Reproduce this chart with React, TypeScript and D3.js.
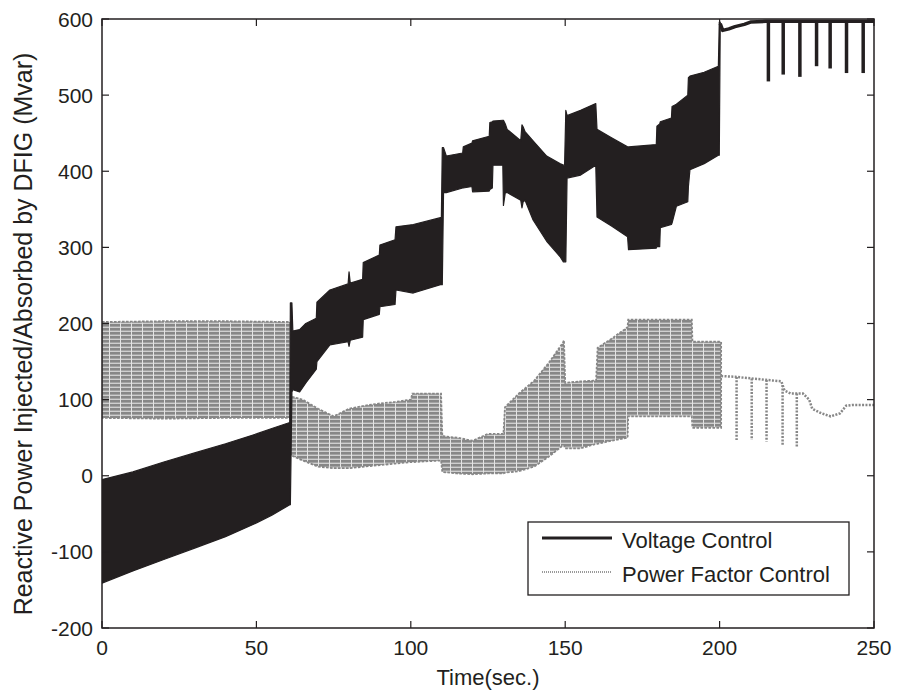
import React from "react";
import * as d3 from "d3";

// ---- Data ----
// Voltage Control: envelope of the oscillation band (time, upper, lower)
const vcT = [0, 10, 20, 30, 40, 50, 55, 60.8, 61.0, 61.5, 61.8, 64, 66, 69.4, 69.6, 73.8, 79.7, 80.0, 80.4, 84.4, 84.6, 89.8, 90.0, 94.9, 95.2, 100.8, 109.6, 109.9, 110.2, 110.6, 111.5, 116.8, 117.0, 119.8, 120.0, 125.4, 125.6, 126.4, 126.6, 129.8, 130.0, 130.6, 131.2, 135.6, 136.0, 136.4, 137.0, 139.6, 144, 148.3, 149.4, 149.8, 150.2, 150.6, 155, 159.9, 160.3, 165, 170.2, 170.5, 179.5, 179.7, 180.6, 180.8, 184.4, 184.6, 186, 189.7, 189.9, 190.4, 195, 199.6, 199.9, 200.2];
const vcHigh = [-5, 5, 18, 30, 42, 55, 62, 70, 227, 227, 190, 192, 200, 207, 228, 244, 252, 268, 253, 258, 280, 290, 303, 310, 327, 330, 339, 339, 431, 431, 420, 424, 432, 437, 440, 446, 464, 465, 466, 467, 467, 462, 455, 440, 461, 458, 452, 440, 420, 410, 408, 408, 480, 473, 480, 489, 455, 444, 432, 432, 435, 459, 462, 465, 470, 485, 488, 500, 523, 525, 530, 538, 596, 596];
const vcLow = [-141, -125, -110, -95, -80, -62, -52, -38, -38, 110, 113, 110, 122, 140, 150, 172, 176, 170, 178, 182, 205, 212, 222, 225, 244, 240, 251, 251, 251, 372, 372, 378, 378, 380, 373, 374, 376, 378, 408, 408, 355, 372, 372, 362, 352, 360, 362, 336, 308, 288, 281, 281, 281, 391, 395, 408, 340, 328, 314, 297, 299, 301, 301, 326, 330, 332, 354, 360, 380, 402, 410, 421, 421, 590];
// Voltage Control after t = 200: near-saturated line with short drops
const vcTailT = [200.2, 201, 203, 205, 208, 210, 215, 220, 230, 240, 250];
const vcTailV = [594, 585, 587, 590, 593, 596, 597, 597, 597, 597, 597];
const vcDropT = [215.8, 220.6, 226.0, 231.4, 235.8, 241.1, 246.5];
const vcDropV = [518, 527, 524, 538, 535, 529, 529];

// Power Factor Control: envelope of the oscillation band
const pfT = [0, 20, 40, 61, 61.2, 65, 70, 75, 80, 85, 90, 95, 100, 100.5, 109.8, 110.2, 115, 120, 125, 130, 130.5, 135, 140, 145, 149.3, 149.6, 150, 155, 160, 160.5, 165, 170.2, 170.4, 180, 191, 191.2, 200.5];
const pfHigh = [202, 203, 203, 202, 104, 100, 88, 78, 88, 92, 95, 97, 100, 108, 108, 52, 50, 46, 55, 55, 90, 108, 125, 150, 175, 178, 122, 124, 125, 168, 180, 195, 205, 205, 205, 176, 176];
const pfLow = [76, 75, 76, 76, 27, 20, 12, 10, 10, 12, 14, 16, 18, 18, 20, 5, 3, 2, 3, 3, 4, 6, 12, 26, 40, 40, 36, 36, 42, 42, 46, 50, 78, 78, 78, 63, 63];
// Power Factor Control after t = 200
const pfTailT = [200.5, 205, 210, 215, 220, 221, 223, 227, 229, 230, 233, 236, 239, 241, 243, 250];
const pfTailV = [131, 130, 128, 126, 124, 112, 108, 108, 100, 88, 82, 78, 82, 92, 93, 93];
const pfDropT = [205.5, 210.4, 215.2, 220.4, 225.0];
const pfDropV = [47, 47, 45, 40, 37];

const xTicks = [0, 50, 100, 150, 200, 250];
const yTicks = [-200, -100, 0, 100, 200, 300, 400, 500, 600];
const seriesNames = ["Voltage Control", "Power Factor Control"];
const xLabel = "Time(sec.)";
const yLabel = "Reactive Power Injected/Absorbed by DFIG (Mvar)";

// ---- Layout ----
const W = 897;
const H = 693;
const left = 102;
const right = 874;
const top = 19;
const bottom = 628;
const FONT = "'Liberation Sans', Arial, Helvetica, sans-serif";
const INK = "#231f20";
const GRAY = "#878787";

export default function App() {
  const x = d3.scaleLinear().domain([0, 250]).range([left, right]);
  const y = d3.scaleLinear().domain([-200, 600]).range([bottom, top]);

  const vcArea = d3
    .area<number>()
    .x((_, i) => x(vcT[i]))
    .y0((_, i) => y(vcLow[i]))
    .y1((_, i) => y(vcHigh[i]));
  const pfArea = d3
    .area<number>()
    .x((_, i) => x(pfT[i]))
    .y0((_, i) => y(pfLow[i]))
    .y1((_, i) => y(pfHigh[i]));
  const vcTail = d3
    .line<number>()
    .x((_, i) => x(vcTailT[i]))
    .y((d) => y(d));
  const pfTail = d3
    .line<number>()
    .x((_, i) => x(pfTailT[i]))
    .y((d) => y(d));

  const tailAt = (ts: number[], vs: number[], t: number) => {
    const i = d3.bisectLeft(ts, t);
    if (i <= 0) return vs[0];
    if (i >= ts.length) return vs[vs.length - 1];
    const f = (t - ts[i - 1]) / (ts[i] - ts[i - 1]);
    return vs[i - 1] + f * (vs[i] - vs[i - 1]);
  };

  const tickLen = 7;

  return (
    <svg
      width={W}
      height={H}
      style={{ position: "absolute", left: 0, top: 0, background: "#fff" }}
      fontFamily={FONT}
    >
      <defs>
        <pattern id="pfStripes" width={11} height={4} patternUnits="userSpaceOnUse">
          <rect width={11} height={4} fill="#cfcfcf" />
          <rect width={11} height={2.6} fill={GRAY} />
          <rect x={10} width={1} height={4} fill="#e4e4e4" />
        </pattern>
        <clipPath id="plotClip">
          <rect x={left} y={top - 2} width={right - left} height={bottom - top + 2} />
        </clipPath>
      </defs>
      <rect x={0} y={0} width={W} height={H} fill="#fff" />

      <g clipPath="url(#plotClip)">
        {/* Power factor control band */}
        <path d={pfArea(pfT) || ""} fill="url(#pfStripes)" stroke={GRAY} strokeWidth={1.8} strokeDasharray="2.6,1.4" />
        <path d={pfTail(pfTailV) || ""} fill="none" stroke={GRAY} strokeWidth={2.5} strokeDasharray="2,1.4" />
        {pfDropT.map((t, i) => (
          <line
            key={"pfd" + i}
            x1={x(t)}
            x2={x(t)}
            y1={y(tailAt(pfTailT, pfTailV, t))}
            y2={y(pfDropV[i])}
            stroke={GRAY}
            strokeWidth={2.5}
            strokeDasharray="2,1.4"
          />
        ))}

        {/* Voltage control band */}
        <path d={vcArea(vcT) || ""} fill={INK} stroke={INK} strokeWidth={1.2} strokeLinejoin="round" />
        <path d={vcTail(vcTailV) || ""} fill="none" stroke={INK} strokeWidth={3.5} strokeLinejoin="round" />
        {vcDropT.map((t, i) => (
          <line
            key={"vcd" + i}
            x1={x(t)}
            x2={x(t)}
            y1={y(tailAt(vcTailT, vcTailV, t))}
            y2={y(vcDropV[i])}
            stroke={INK}
            strokeWidth={3.5}
          />
        ))}
      </g>

      {/* Axes frame */}
      <rect x={left} y={top} width={right - left} height={bottom - top} fill="none" stroke={INK} strokeWidth={1.5} />
      {xTicks.map((t) => (
        <g key={"xt" + t}>
          <line x1={x(t)} x2={x(t)} y1={bottom} y2={bottom - tickLen} stroke={INK} strokeWidth={1.2} />
          <line x1={x(t)} x2={x(t)} y1={top} y2={top + tickLen} stroke={INK} strokeWidth={1.2} />
          <text x={x(t)} y={655} textAnchor="middle" fontSize={21} fill={INK}>
            {t}
          </text>
        </g>
      ))}
      {yTicks.map((v) => (
        <g key={"yt" + v}>
          <line x1={left} x2={left + tickLen} y1={y(v)} y2={y(v)} stroke={INK} strokeWidth={1.2} />
          <line x1={right} x2={right - tickLen} y1={y(v)} y2={y(v)} stroke={INK} strokeWidth={1.2} />
          <text x={93} y={y(v) + 7.5} textAnchor="end" fontSize={21} fill={INK}>
            {v}
          </text>
        </g>
      ))}

      <text x={(left + right) / 2} y={685} textAnchor="middle" fontSize={22} fill={INK}>
        {xLabel}
      </text>
      <text
        transform={`translate(32, 334) rotate(-90)`}
        textAnchor="middle"
        fontSize={25}
        fill={INK}
      >
        {yLabel}
      </text>

      {/* Legend */}
      <rect x={528} y={522} width={321} height={73} fill="#fff" stroke={INK} strokeWidth={1.3} />
      <line x1={542} x2={612} y1={538} y2={538} stroke={INK} strokeWidth={3} />
      <line x1={542} x2={612} y1={572} y2={572} stroke="#9a9a9a" strokeWidth={2} strokeDasharray="1,1" />
      <text x={622} y={548} fontSize={22} fill={INK}>
        {seriesNames[0]}
      </text>
      <text x={622} y={582} fontSize={22} fill={INK}>
        {seriesNames[1]}
      </text>
    </svg>
  );
}
